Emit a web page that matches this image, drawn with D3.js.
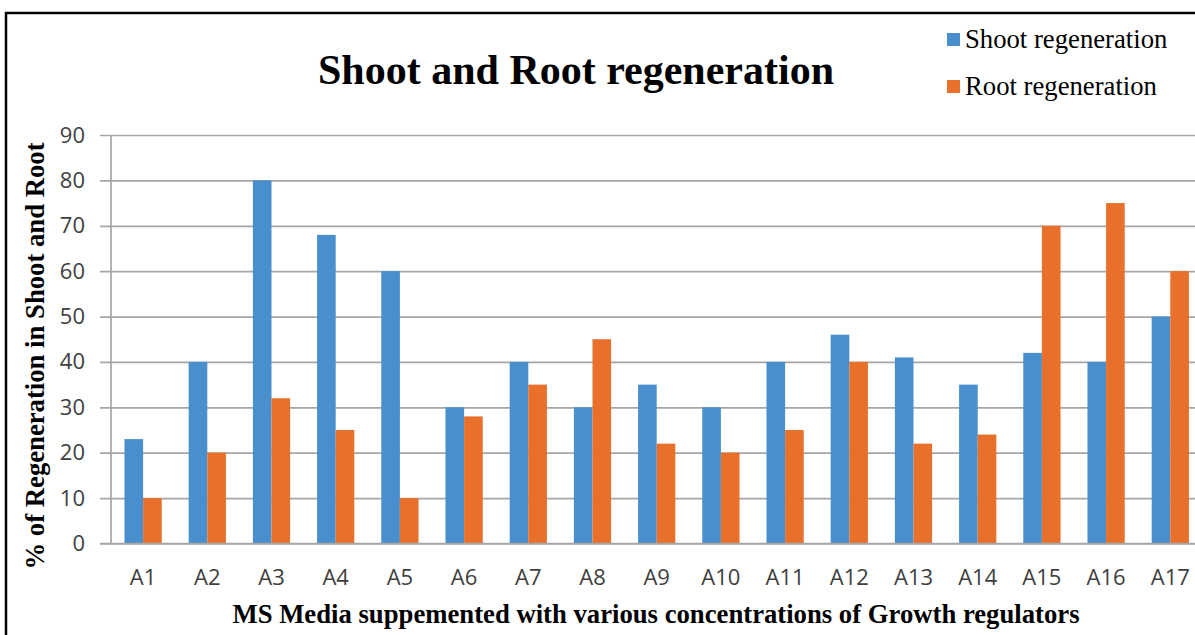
<!DOCTYPE html>
<html>
<head>
<meta charset="utf-8">
<script src="https://cdn.jsdelivr.net/npm/d3@7"></script>
<style>
  body { margin: 0; background: #fff; }
  svg { display: block; }
  .tick text { font-family: "Open Sans", "Liberation Sans", sans-serif; fill: #404040; }
</style>
</head>
<body>
<svg id="chart"></svg>
<script>
"use strict";

const SVG_WIDTH = 1195;
const SVG_HEIGHT = 635;

const categories = ["A1", "A2", "A3", "A4", "A5", "A6", "A7", "A8", "A9", "A10", "A11", "A12", "A13", "A14", "A15", "A16", "A17"];
const shootValues = [23, 40, 80, 68, 60, 30, 40, 30, 35, 30, 40, 46, 41, 35, 42, 40, 50];
const rootValues = [10, 20, 32, 25, 10, 28, 35, 45, 22, 20, 25, 40, 22, 24, 70, 75, 60];
const seriesNames = ["Shoot regeneration", "Root regeneration"];
const yTicks = [0, 10, 20, 30, 40, 50, 60, 70, 80, 90];

const COLORS = { shoot: "#4a8fcd", root: "#e8702a", grid: "#a6a6a6" };
const SERIF = "'Liberation Serif', 'Times New Roman', serif";

const PLOT = { LEFT: 111, TOP: 135, BOTTOM: 543.5, STEP: 64.2 };

const svg = d3.select("#chart").attr("width", SVG_WIDTH).attr("height", SVG_HEIGHT);

// frame (right and bottom edges fall outside the picture)
svg.append("rect").attr("x", 6).attr("y", 13).attr("width", 1400).attr("height", 800)
  .attr("fill", "none").attr("stroke", "#000").attr("stroke-width", 2.5);

const x = d3.scaleBand().domain(categories)
  .range([PLOT.LEFT, PLOT.LEFT + PLOT.STEP * categories.length])
  .paddingInner(0.42).paddingOuter(0.21);
const xSub = d3.scaleBand().domain(["shoot", "root"]).range([0, x.bandwidth()]);
const y = d3.scaleLinear().domain([0, 90]).range([PLOT.BOTTOM, PLOT.TOP]);

// gridlines + y axis
const yAxis = svg.append("g").attr("transform", `translate(${PLOT.LEFT},0)`)
  .call(d3.axisLeft(y).tickValues(yTicks).tickSize(-(SVG_WIDTH - PLOT.LEFT)).tickPadding(26).tickFormat(d3.format("d")));
yAxis.select(".domain").remove();
yAxis.selectAll(".tick line").attr("stroke", COLORS.grid).attr("stroke-width", 1.7).attr("x1", -11);
yAxis.selectAll(".tick text").attr("font-size", 22);

svg.append("line").attr("x1", PLOT.LEFT).attr("x2", PLOT.LEFT)
  .attr("y1", PLOT.TOP).attr("y2", PLOT.BOTTOM)
  .attr("stroke", COLORS.grid).attr("stroke-width", 1.7);

// bars
const groups = svg.append("g").selectAll("g").data(categories).join("g")
  .attr("transform", d => `translate(${x(d)},0)`);

groups.append("rect")
  .attr("x", xSub("shoot")).attr("width", xSub.bandwidth())
  .attr("y", (d, i) => y(shootValues[i])).attr("height", (d, i) => y(0) - y(shootValues[i]))
  .attr("fill", COLORS.shoot);

groups.append("rect")
  .attr("x", xSub("root")).attr("width", xSub.bandwidth())
  .attr("y", (d, i) => y(rootValues[i])).attr("height", (d, i) => y(0) - y(rootValues[i]))
  .attr("fill", COLORS.root);

// x axis
const xAxis = svg.append("g").attr("transform", `translate(0,${PLOT.BOTTOM})`)
  .call(d3.axisBottom(x).tickSize(0).tickPadding(26));
xAxis.select(".domain").attr("stroke", COLORS.grid).attr("stroke-width", 1.7)
  .attr("d", `M${PLOT.LEFT - 11},0H${SVG_WIDTH}`);
xAxis.selectAll(".tick text").attr("font-size", 22);

// titles
svg.append("text").attr("x", 576).attr("y", 84).attr("text-anchor", "middle")
  .attr("font-family", SERIF).attr("font-weight", "bold")
  .attr("font-size", 42).attr("fill", "#000").text("Shoot and Root regeneration");

svg.append("text").attr("x", 656).attr("y", 623).attr("text-anchor", "middle")
  .attr("font-family", SERIF).attr("font-weight", "bold")
  .attr("font-size", 26.7).attr("fill", "#000")
  .text("MS Media suppemented with various concentrations of Growth regulators");

svg.append("text").attr("transform", "translate(44,356) rotate(-90)").attr("text-anchor", "middle")
  .attr("font-family", SERIF).attr("font-weight", "bold")
  .attr("font-size", 26.7).attr("fill", "#000")
  .text("% of Regeneration in Shoot and Root");

// legend
const legend = svg.append("g").selectAll("g").data(seriesNames).join("g")
  .attr("transform", (d, i) => `translate(947,${33 + i * 47})`);
legend.append("rect").attr("width", 13).attr("height", 13)
  .attr("fill", (d, i) => i === 0 ? COLORS.shoot : COLORS.root);
legend.append("text").attr("x", 18).attr("y", 15)
  .attr("font-family", SERIF)
  .attr("font-size", 26.7).attr("fill", "#000").text(d => d);
</script>
</body>
</html>
